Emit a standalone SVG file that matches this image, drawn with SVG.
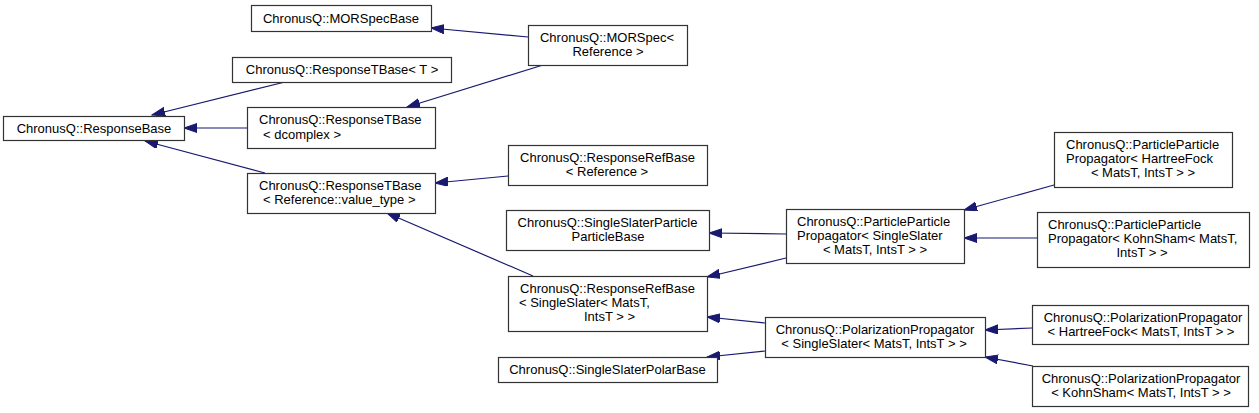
<svg xmlns="http://www.w3.org/2000/svg" width="1259" height="413" viewBox="0 0 1259 413">
<style>
.n rect{fill:#fff;stroke:#333;stroke-width:1.2}
.n text{font-family:"Liberation Sans",Arial,sans-serif;font-size:13px;fill:#000}
.m{text-anchor:middle}
#edges line{stroke:#191970;stroke-width:1.2;marker-end:url(#ah)}
</style>
<defs>
<marker id="ah" markerUnits="userSpaceOnUse" markerWidth="15" markerHeight="11" refX="13" refY="4.5" orient="auto"><path d="M0,0 L13,4.5 L0,9 z" fill="#191970" stroke="#191970" stroke-width="1"/></marker>
</defs>
<g id="edges">
<line x1="528" y1="37" x2="431" y2="28"/>
<line x1="543" y1="65" x2="407" y2="107"/>
<line x1="285" y1="82" x2="152" y2="115"/>
<line x1="247" y1="128" x2="184" y2="128"/>
<line x1="265" y1="173" x2="145" y2="141"/>
<line x1="508" y1="176" x2="435" y2="183"/>
<line x1="533" y1="276" x2="387" y2="213"/>
<line x1="786" y1="234" x2="709" y2="233"/>
<line x1="786" y1="258" x2="707" y2="277"/>
<line x1="765" y1="323" x2="707" y2="317"/>
<line x1="765" y1="351" x2="707" y2="357"/>
<line x1="1054" y1="185" x2="964" y2="210"/>
<line x1="1037" y1="238" x2="964" y2="238"/>
<line x1="1032" y1="328" x2="985" y2="330"/>
<line x1="1033" y1="366" x2="985" y2="357"/>
</g>
<g id="MORSpecBase" class="n"><rect x="251.5" y="5.5" width="180" height="26"/><text class="m" x="341" y="22.5">ChronusQ::MORSpecBase</text></g>
<g id="ResponseTBaseT" class="n"><rect x="232.5" y="57.5" width="219" height="25"/><text class="m" x="342" y="74">ChronusQ::ResponseTBase&lt; T &gt;</text></g>
<g id="ResponseBase" class="n"><rect x="3.5" y="116.5" width="181" height="24"/><text class="m" x="94" y="132.5">ChronusQ::ResponseBase</text></g>
<g id="ResponseTBaseDcomplex" class="n"><rect x="247.5" y="107.5" width="188" height="41"/><text x="259" y="124">ChronusQ::ResponseTBase</text><text x="263" y="139">&lt; dcomplex &gt;</text></g>
<g id="ResponseTBaseValueType" class="n"><rect x="247.5" y="173.5" width="188" height="40"/><text x="259" y="190">ChronusQ::ResponseTBase</text><text x="263" y="204">&lt; Reference::value_type &gt;</text></g>
<g id="MORSpecReference" class="n"><rect x="528.5" y="25.5" width="159" height="40"/><text class="m" x="607" y="42">ChronusQ::MORSpec&lt;</text><text class="m" x="608" y="56">Reference &gt;</text></g>
<g id="ResponseRefBaseReference" class="n"><rect x="508.5" y="145.5" width="199" height="40"/><text class="m" x="607.5" y="162">ChronusQ::ResponseRefBase</text><text class="m" x="607" y="176">&lt; Reference &gt;</text></g>
<g id="SingleSlaterParticleParticleBase" class="n"><rect x="506.5" y="210.5" width="203" height="40"/><text class="m" x="607.5" y="227">ChronusQ::SingleSlaterParticle</text><text class="m" x="608" y="241">ParticleBase</text></g>
<g id="ResponseRefBaseSingleSlater" class="n"><rect x="508.5" y="276.5" width="199" height="55"/><text class="m" x="607.5" y="293">ChronusQ::ResponseRefBase</text><text x="519" y="307">&lt; SingleSlater&lt; MatsT,</text><text class="m" x="609.5" y="321">IntsT &gt; &gt;</text></g>
<g id="SingleSlaterPolarBase" class="n"><rect x="498.5" y="357.5" width="219" height="25"/><text class="m" x="607.5" y="374">ChronusQ::SingleSlaterPolarBase</text></g>
<g id="PPPSingleSlater" class="n"><rect x="786.5" y="209.5" width="178" height="54"/><text x="797" y="226">ChronusQ::ParticleParticle</text><text x="797" y="240">Propagator&lt; SingleSlater</text><text class="m" x="875" y="254">&lt; MatsT, IntsT &gt; &gt;</text></g>
<g id="PolPropSingleSlater" class="n"><rect x="765.5" y="317.5" width="220" height="40"/><text class="m" x="875" y="334">ChronusQ::PolarizationPropagator</text><text class="m" x="874" y="348">&lt; SingleSlater&lt; MatsT, IntsT &gt; &gt;</text></g>
<g id="PPPHartreeFock" class="n"><rect x="1054.5" y="132.5" width="178" height="55"/><text x="1066" y="149">ChronusQ::ParticleParticle</text><text x="1066" y="163">Propagator&lt; HartreeFock</text><text class="m" x="1143" y="177">&lt; MatsT, IntsT &gt; &gt;</text></g>
<g id="PPPKohnSham" class="n"><rect x="1037.5" y="212.5" width="212" height="55"/><text x="1048" y="229">ChronusQ::ParticleParticle</text><text x="1048" y="243">Propagator&lt; KohnSham&lt; MatsT,</text><text class="m" x="1142" y="257">IntsT &gt; &gt;</text></g>
<g id="PolPropHartreeFock" class="n"><rect x="1032.5" y="305.5" width="216" height="39"/><text class="m" x="1143" y="322">ChronusQ::PolarizationPropagator</text><text class="m" x="1141" y="336">&lt; HartreeFock&lt; MatsT, IntsT &gt; &gt;</text></g>
<g id="PolPropKohnSham" class="n"><rect x="1032.5" y="366.5" width="216" height="40"/><text class="m" x="1141" y="383">ChronusQ::PolarizationPropagator</text><text class="m" x="1141" y="397">&lt; KohnSham&lt; MatsT, IntsT &gt; &gt;</text></g>
</svg>
